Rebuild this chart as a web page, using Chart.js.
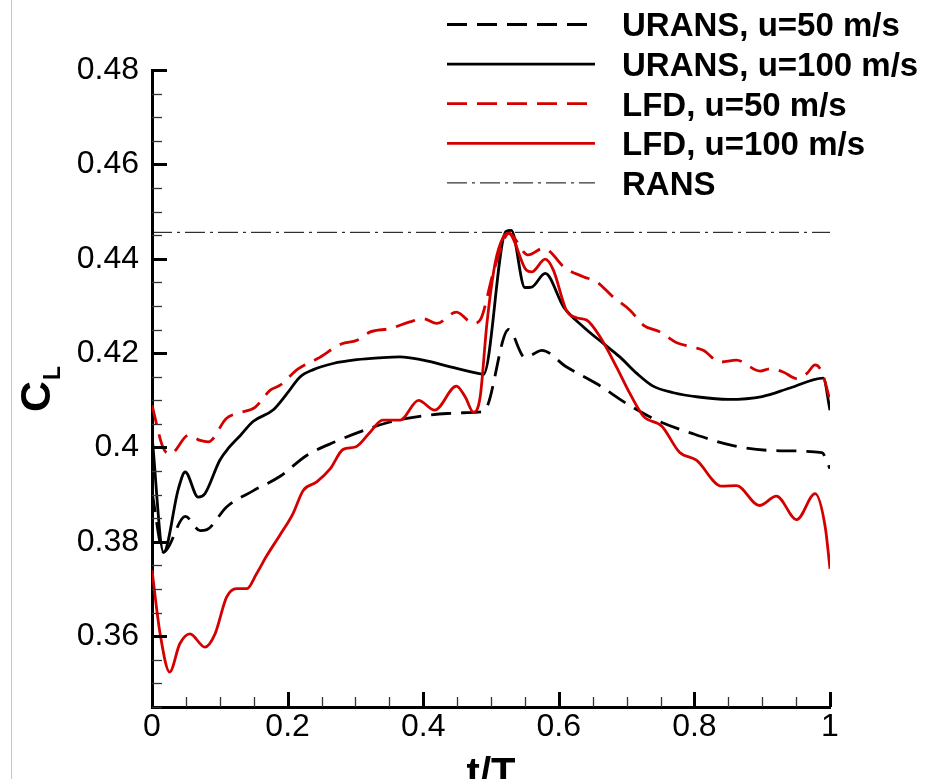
<!DOCTYPE html>
<html>
<head>
<meta charset="utf-8">
<script src="https://cdn.jsdelivr.net/npm/chart.js@4/dist/chart.umd.min.js"></script>
<style>
  html, body { margin: 0; padding: 0; background: #fff; }
  canvas { display: block; }
</style>
</head>
<body>
<canvas id="cl" width="929" height="779"></canvas>
<script>
// Lift coefficient over one period, t/T in [0, 1]
const tUrans50 = [0, 0.017, 0.049, 0.071, 0.081, 0.110, 0.149, 0.189, 0.228, 0.270,
  0.312, 0.351, 0.390, 0.435, 0.481, 0.491, 0.526, 0.550, 0.560, 0.575,
  0.611, 0.656, 0.700, 0.744, 0.794, 0.857, 0.926, 0.988, 1.0];
const clUrans50 = [0.3905, 0.3778, 0.3854, 0.3824, 0.3826, 0.3874, 0.3908, 0.3939, 0.3983, 0.4012,
  0.4036, 0.4054, 0.4065, 0.4072, 0.4075, 0.4079, 0.4250, 0.4191, 0.4196, 0.4206,
  0.4171, 0.4135, 0.4093, 0.4058, 0.4031, 0.4004, 0.3993, 0.3989, 0.3955];

const tUrans100 = [0, 0.017, 0.039, 0.049, 0.068, 0.078, 0.100, 0.113, 0.130, 0.149,
  0.179, 0.199, 0.218, 0.238, 0.267, 0.302, 0.336, 0.366, 0.400, 0.440,
  0.481, 0.489, 0.522, 0.530, 0.550, 0.560, 0.580, 0.607, 0.636, 0.666,
  0.690, 0.715, 0.739, 0.769, 0.806, 0.850, 0.900, 0.941, 0.990, 1.0];
const clUrans100 = [0.4025, 0.3778, 0.3913, 0.3948, 0.3895, 0.3902, 0.3973, 0.3999, 0.4025, 0.4055,
  0.4080, 0.4114, 0.4149, 0.4165, 0.4178, 0.4186, 0.4190, 0.4192, 0.4185, 0.4171,
  0.4157, 0.4155, 0.4458, 0.4460, 0.4339, 0.4340, 0.4369, 0.4298, 0.4256, 0.4220,
  0.4192, 0.4157, 0.4130, 0.4116, 0.4107, 0.4102, 0.4108, 0.4126, 0.4147, 0.4079];

const tLfd50 = [0, 0.016, 0.027, 0.054, 0.071, 0.083, 0.110, 0.130, 0.152, 0.174,
  0.189, 0.215, 0.245, 0.280, 0.302, 0.322, 0.351, 0.380, 0.400, 0.420,
  0.449, 0.474, 0.484, 0.503, 0.521, 0.526, 0.555, 0.577, 0.587, 0.607,
  0.636, 0.656, 0.680, 0.705, 0.725, 0.749, 0.774, 0.800, 0.813, 0.838,
  0.862, 0.897, 0.912, 0.931, 0.951, 0.966, 0.978, 0.988, 1.0];
const clLfd50 = [0.4090, 0.4001, 0.3986, 0.4026, 0.4015, 0.4012, 0.4062, 0.4074, 0.4085, 0.4121,
  0.4132, 0.4166, 0.4189, 0.4220, 0.4227, 0.4245, 0.4252, 0.4266, 0.4273, 0.4263,
  0.4287, 0.4263, 0.4270, 0.4369, 0.4446, 0.4454, 0.4408, 0.4422, 0.4415, 0.4383,
  0.4362, 0.4351, 0.4319, 0.4291, 0.4259, 0.4245, 0.4222, 0.4212, 0.4206, 0.4181,
  0.4185, 0.4162, 0.4167, 0.4160, 0.4146, 0.4157, 0.4175, 0.4160, 0.4100];

const tLfd100 = [0, 0.012, 0.026, 0.041, 0.056, 0.078, 0.093, 0.110, 0.125, 0.140,
  0.154, 0.169, 0.189, 0.208, 0.223, 0.243, 0.263, 0.282, 0.300, 0.322,
  0.340, 0.366, 0.393, 0.417, 0.449, 0.462, 0.474, 0.484, 0.494, 0.506,
  0.518, 0.526, 0.552, 0.560, 0.580, 0.592, 0.611, 0.626, 0.641, 0.661,
  0.685, 0.705, 0.725, 0.752, 0.778, 0.803, 0.840, 0.862, 0.896, 0.921,
  0.951, 0.978, 0.993, 1.0];
const clLfd100 = [0.3740, 0.3605, 0.3524, 0.3584, 0.3605, 0.3577, 0.3605, 0.3683, 0.3701, 0.3701,
  0.3732, 0.3770, 0.3815, 0.3860, 0.3909, 0.3927, 0.3955, 0.3996, 0.4001, 0.4033,
  0.4058, 0.4058, 0.4100, 0.4079, 0.4130, 0.4107, 0.4075, 0.4107, 0.4263, 0.4390,
  0.4446, 0.4454, 0.4376, 0.4372, 0.4399, 0.4376, 0.4291, 0.4275, 0.4270, 0.4234,
  0.4171, 0.4114, 0.4066, 0.4045, 0.3990, 0.3973, 0.3918, 0.3919, 0.3877, 0.3897,
  0.3847, 0.3902, 0.3831, 0.3743];

const tRans = [0, 1];
const clRans = [0.4456, 0.4456];

// Axis ticks and labels
const xTickValues = [0, 0.2, 0.4, 0.6, 0.8, 1];
const xTickLabels = ['0', '0.2', '0.4', '0.6', '0.8', '1'];
const yTickValues = [0.36, 0.38, 0.40, 0.42, 0.44, 0.46, 0.48];
const yTickLabels = ['0.36', '0.38', '0.4', '0.42', '0.44', '0.46', '0.48'];
const xMinorStep = 0.05;
const yMinorStep = 0.005;

const seriesNames = ['URANS, u=50 m/s', 'URANS, u=100 m/s', 'LFD, u=50 m/s', 'LFD, u=100 m/s', 'RANS'];

const RED = '#d40000';
const FONT = "'Liberation Sans', Arial, Helvetica, sans-serif";
const DASH = [20, 10];
const DASHDOT = [20, 5, 3, 5];
const LW = 2.8;

const pts = (ts, vs) => ts.map((t, i) => ({ x: t, y: vs[i] }));

const legendRows = [
  { label: seriesNames[0], color: '#000', dash: DASH, width: LW },
  { label: seriesNames[1], color: '#000', dash: [], width: LW },
  { label: seriesNames[2], color: RED, dash: DASH, width: LW },
  { label: seriesNames[3], color: RED, dash: [], width: LW },
  { label: seriesNames[4], color: '#000', dash: DASHDOT, width: 1 }
];

const decorations = {
  id: 'decorations',
  beforeDraw(chart) {
    const ctx = chart.ctx;
    ctx.save();
    ctx.fillStyle = '#fff';
    ctx.fillRect(0, 0, chart.width, chart.height);
    ctx.fillStyle = '#c6c6c6';
    ctx.fillRect(11, 0, 1, chart.height);
    ctx.restore();
  },
  afterDraw(chart) {
    const { ctx, chartArea: a, scales: { x, y } } = chart;
    ctx.save();
    ctx.lineCap = 'butt';

    // inward tick marks on both axes
    const isMajor = (v, majors) => majors.some(m => Math.abs(m - v) < 1e-9);
    for (let k = 0; x.min + k * xMinorStep <= x.max + 1e-9; k++) {
      const v = +(x.min + k * xMinorStep).toFixed(4);
      const major = isMajor(v, xTickValues);
      const px = Math.round(x.getPixelForValue(v)) + 0.5;
      ctx.beginPath();
      ctx.strokeStyle = major ? '#000' : '#333';
      ctx.lineWidth = major ? 3 : 1.3;
      ctx.moveTo(px, a.bottom);
      ctx.lineTo(px, a.bottom - (major ? 15 : 10));
      ctx.stroke();
    }
    for (let k = 0; y.min + k * yMinorStep <= y.max + 1e-9; k++) {
      const v = +(y.min + k * yMinorStep).toFixed(4);
      const major = isMajor(v, yTickValues);
      const py = Math.round(y.getPixelForValue(v)) + 0.5;
      ctx.beginPath();
      ctx.strokeStyle = major ? '#000' : '#333';
      ctx.lineWidth = major ? 3 : 1.3;
      ctx.moveTo(a.left, py);
      ctx.lineTo(a.left + (major ? 15 : 10), py);
      ctx.stroke();
    }

    // legend
    ctx.font = 'bold 33px ' + FONT;
    ctx.textAlign = 'left';
    ctx.textBaseline = 'alphabetic';
    legendRows.forEach((r, i) => {
      const ry = 24.5 + i * 39.6;
      ctx.beginPath();
      ctx.setLineDash(r.dash);
      ctx.strokeStyle = r.color;
      ctx.lineWidth = r.width;
      ctx.moveTo(447, ry);
      ctx.lineTo(595, ry);
      ctx.stroke();
      ctx.setLineDash([]);
      ctx.fillStyle = '#000';
      ctx.fillText(r.label, 622, ry + 11.8);
    });

    // axis titles
    ctx.fillStyle = '#000';
    ctx.font = 'bold 40px ' + FONT;
    ctx.textAlign = 'center';
    ctx.fillText('t/T', (a.left + a.right) / 2, 786);

    ctx.save();
    ctx.translate(50, 412);
    ctx.rotate(-Math.PI / 2);
    ctx.textAlign = 'left';
    ctx.font = 'bold 43px ' + FONT;
    ctx.fillText('C', 0, 0);
    const w = ctx.measureText('C').width;
    ctx.font = 'bold 23px ' + FONT;
    ctx.fillText('L', w + 1, 10);
    ctx.restore();

    ctx.restore();
  }
};

new Chart(document.getElementById('cl'), {
  type: 'line',
  data: {
    datasets: [
      { label: seriesNames[3], data: pts(tLfd100, clLfd100), borderColor: RED, borderWidth: LW },
      { label: seriesNames[2], data: pts(tLfd50, clLfd50), borderColor: RED, borderWidth: LW, borderDash: DASH },
      { label: seriesNames[1], data: pts(tUrans100, clUrans100), borderColor: '#000', borderWidth: LW },
      { label: seriesNames[0], data: pts(tUrans50, clUrans50), borderColor: '#000', borderWidth: LW, borderDash: DASH },
      { label: seriesNames[4], data: pts(tRans, clRans), borderColor: '#000', borderWidth: 1, borderDash: DASHDOT, cubicInterpolationMode: 'default', tension: 0 }
    ]
  },
  options: {
    responsive: false,
    animation: false,
    events: [],
    layout: { padding: { left: 0, right: 99, top: 70, bottom: 0 } },
    elements: {
      point: { radius: 0 },
      line: { cubicInterpolationMode: 'monotone', fill: false, borderCapStyle: 'butt', borderJoinStyle: 'round' }
    },
    plugins: { legend: { display: false }, tooltip: { enabled: false }, title: { display: false } },
    scales: {
      x: {
        type: 'linear', min: 0, max: 1,
        afterFit(s) { s.height = 72; },
        afterBuildTicks(s) { s.ticks = xTickValues.map(v => ({ value: v })); },
        grid: { display: false, drawTicks: false },
        border: { display: true, color: '#000', width: 3 },
        ticks: {
          color: '#000', padding: 1, maxRotation: 0, autoSkip: false,
          font: { family: FONT, size: 32 },
          callback: (v, i) => xTickLabels[i]
        }
      },
      y: {
        type: 'linear', min: 0.345, max: 0.48,
        afterFit(s) { s.width = 152; },
        afterBuildTicks(s) { s.ticks = yTickValues.map(v => ({ value: v })); },
        grid: { display: false, drawTicks: false },
        border: { display: true, color: '#000', width: 3 },
        ticks: {
          color: '#000', padding: 13, autoSkip: false,
          font: { family: FONT, size: 32 },
          callback: (v, i) => yTickLabels[i]
        }
      }
    }
  },
  plugins: [decorations]
});
</script>
</body>
</html>
